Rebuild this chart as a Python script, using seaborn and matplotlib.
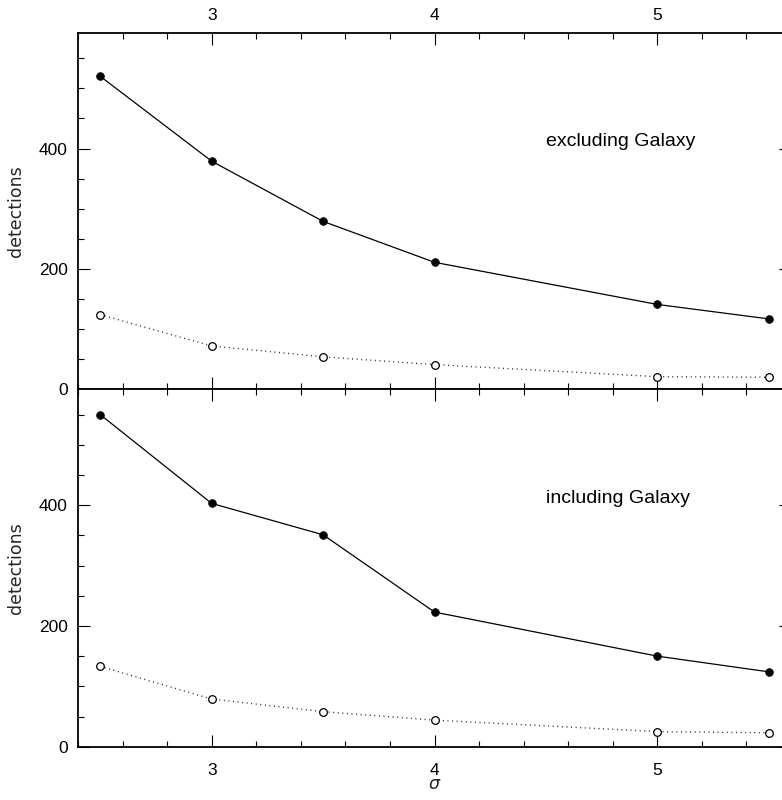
import matplotlib
matplotlib.use("Agg")
import matplotlib.pyplot as plt
from matplotlib.ticker import MultipleLocator
import pandas as pd
import seaborn as sns

# detection threshold (sigma)
sigma = [2.5, 3.0, 3.5, 4.0, 5.0, 5.5]

# excluding Galaxy
excl_all = [520, 379, 279, 211, 141, 117]
excl_sub = [124, 72, 54, 41, 21, 20]

# including Galaxy
incl_all = [550, 403, 351, 223, 150, 124]
incl_sub = [133, 79, 58, 44, 25, 23]

panel_labels = ["excluding Galaxy", "including Galaxy"]

sns.set_theme(style="ticks")
plt.rcParams["font.family"] = ["Liberation Sans", "DejaVu Sans"]
plt.rcParams["lines.scale_dashes"] = False

fig = plt.figure(figsize=(7.82, 8.00), dpi=100)
W, H = 782, 800
left, right = 78, 791
ax_top = fig.add_axes([left / W, 1 - 389.3 / H, (right - left) / W, (389.3 - 33) / H])
ax_bot = fig.add_axes([left / W, 1 - 746.7 / H, (right - left) / W, (746.7 - 389.3) / H])


def draw_panel(ax, y_all, y_sub, label):
    df = pd.DataFrame({"sigma": sigma, "all": y_all, "sub": y_sub})
    sns.lineplot(data=df, x="sigma", y="all", ax=ax, color="black", lw=0.9,
                 marker="o", markersize=5.5, markerfacecolor="black",
                 markeredgecolor="black", markeredgewidth=0.6)
    sns.lineplot(data=df, x="sigma", y="sub", ax=ax, color="#222222", lw=1.0,
                 linestyle=(0, (0.7, 2.6)),
                 marker="o", markersize=5.5, markerfacecolor="white",
                 markeredgecolor="black", markeredgewidth=0.9)
    ax.set_xlim(2.4, 5.6)
    ax.set_ylim(0, 592)
    ax.xaxis.set_major_locator(MultipleLocator(1))
    ax.xaxis.set_minor_locator(MultipleLocator(0.2))
    ax.yaxis.set_major_locator(MultipleLocator(200))
    ax.yaxis.set_minor_locator(MultipleLocator(50))
    for sp in ax.spines.values():
        sp.set_visible(True)
        sp.set_linewidth(1.3)
        sp.set_color("black")
    ax.tick_params(which="both", direction="in", top=True, bottom=True,
                   left=True, right=True, color="black", width=0.8,
                   labelsize=12.5, labelcolor="black")
    ax.tick_params(which="major", length=8.8)
    ax.tick_params(which="minor", length=4.3)
    ax.tick_params(axis="y", which="major", pad=7.5)
    ax.set_ylabel("detections", family="DejaVu Sans", fontsize=12.5)
    ax.set_xlabel("")
    ax.text(0.657, 0.695, label, transform=ax.transAxes, fontsize=14,
            ha="left", va="center", color="black")
    ax.yaxis.set_label_coords(-0.074, 0.5)


draw_panel(ax_top, excl_all, excl_sub, panel_labels[0])
draw_panel(ax_bot, incl_all, incl_sub, panel_labels[1])

ax_top.tick_params(axis="x", labeltop=True, labelbottom=False, pad=7)
ax_bot.tick_params(axis="x", labeltop=False, labelbottom=True, pad=12)
ax_bot.set_xlabel(r"$\sigma$", fontsize=12.5, labelpad=-1)

fig.savefig("out.png", dpi=100, facecolor="white")
